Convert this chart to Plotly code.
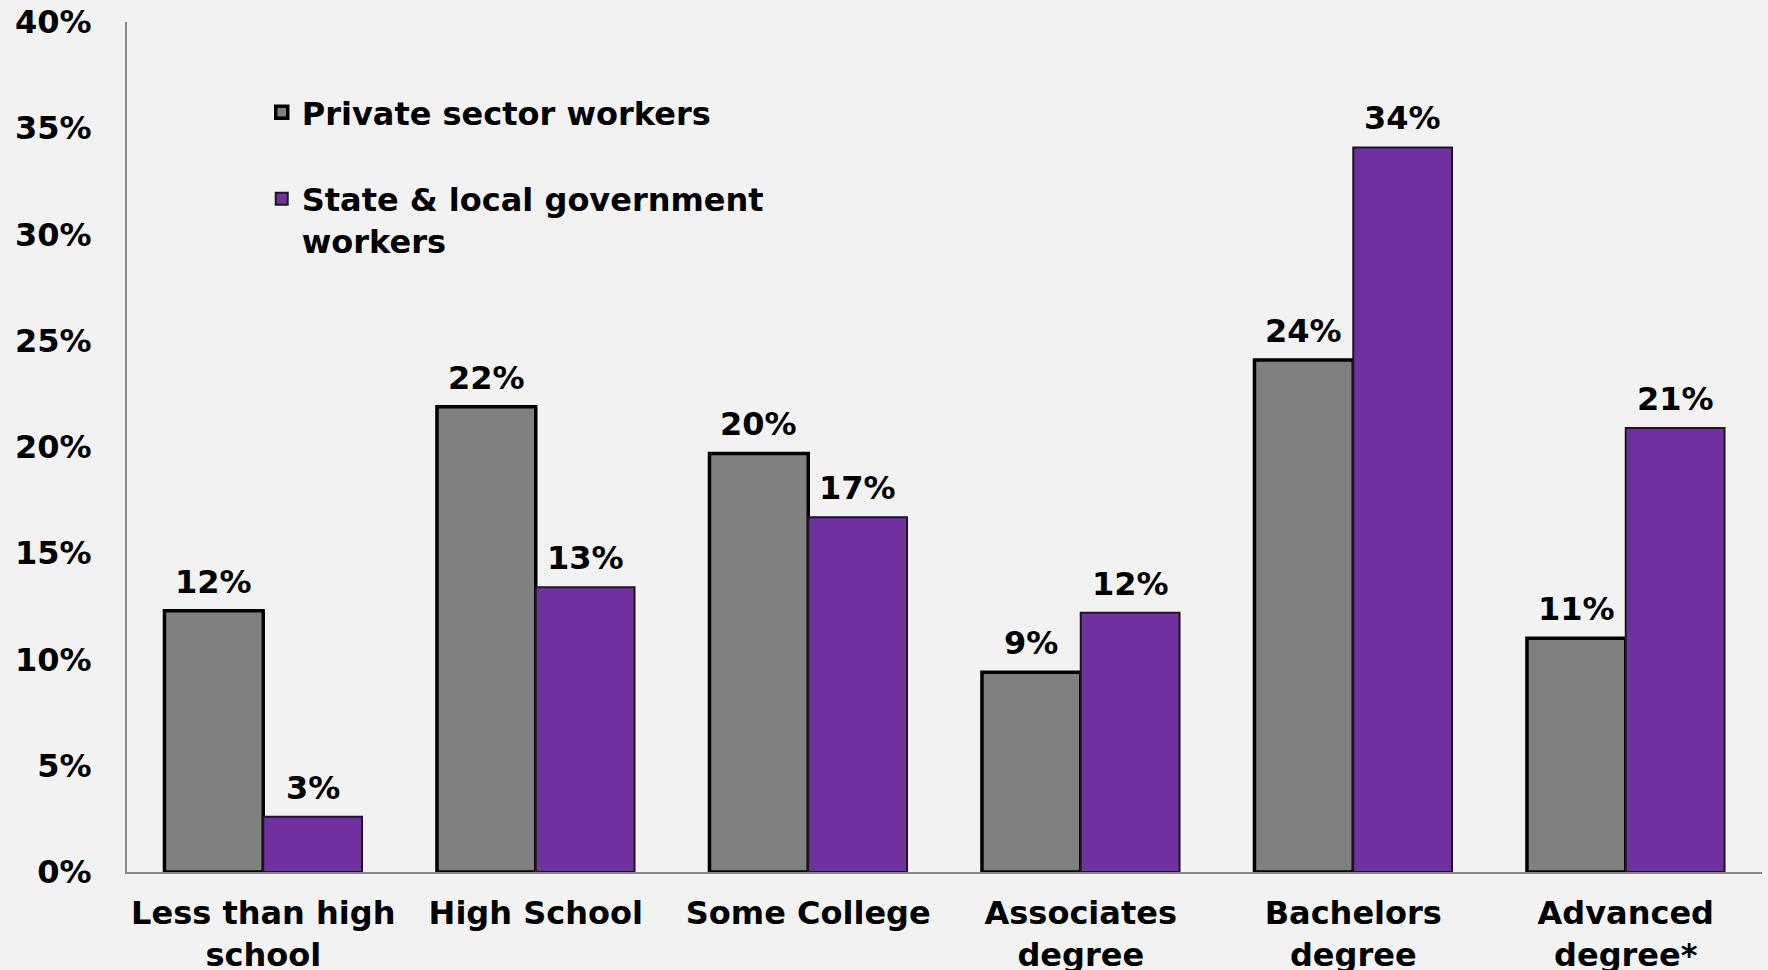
import plotly.graph_objects as go

categories = ["Less than high<br>school", "High School", "Some College",
              "Associates<br>degree", "Bachelors<br>degree", "Advanced<br>degree*"]
private_vals = [12.3, 21.9, 19.7, 9.4, 24.1, 11.0]
state_vals = [2.6, 13.4, 16.7, 12.2, 34.1, 20.9]
series_names = ["Private sector workers", "State & local government<br>workers"]
y_ticks = [0, 5, 10, 15, 20, 25, 30, 35, 40]
y_tick_text = [f"{t}%" for t in y_ticks]

FONT = dict(family="DejaVu Sans", size=32, color="black", weight="bold")
GRAY = "#808080"
PURPLE = "#7030A0"
BG = "#F2F2F2"

fig = go.Figure()
fig.add_trace(go.Bar(x=categories, y=private_vals, name=series_names[0],
                     marker=dict(color=GRAY, line=dict(color="black", width=3.5)),
                     legendgroup="a"))
fig.add_trace(go.Bar(x=categories, y=state_vals, name=series_names[1],
                     marker=dict(color=PURPLE, line=dict(color="#1a1a1a", width=2)),
                     legendgroup="b"))

half_bar = 49.5
for vals, shift in ((private_vals, -half_bar), (state_vals, half_bar)):
    for c, v in zip(categories, vals):
        fig.add_annotation(x=c, y=v, text=f"{round(v):.0f}%", showarrow=False,
                           xshift=shift, yshift=8, yanchor="bottom",
                           font=FONT)

fig.update_layout(
    width=1768, height=970,
    paper_bgcolor=BG, plot_bgcolor=BG,
    margin=dict(l=127, r=6, t=22, b=98),
    barmode="group", bargap=0.275, bargroupgap=0,
    font=FONT,
    showlegend=True,
    legend=dict(x=0.0824, y=0.926, xanchor="left", yanchor="top",
                bgcolor="rgba(0,0,0,0)", font=FONT, tracegroupgap=42,
                valign="top", traceorder="grouped"),
)
fig.update_yaxes(range=[0, 40], tickvals=y_ticks, ticktext=y_tick_text,
                 showgrid=False, zeroline=False, showline=True,
                 linecolor="#898989", linewidth=2, ticks="",
                 ticklabelstandoff=27, tickfont=FONT, fixedrange=True,
                 automargin=False)
fig.update_xaxes(showgrid=False, showline=True, linecolor="#898989",
                 linewidth=2, ticks="", ticklabelstandoff=12,
                 tickfont=FONT, fixedrange=True, automargin=False)

fig.write_html("out.html")
